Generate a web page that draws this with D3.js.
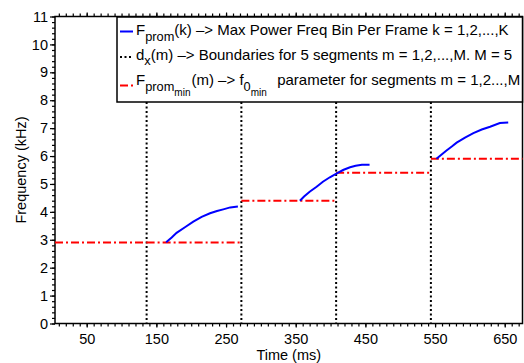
<!DOCTYPE html>
<html>
<head>
<meta charset="utf-8">
<script src="https://cdn.jsdelivr.net/npm/d3@7"></script>
<style>
  html, body { margin: 0; padding: 0; background: #fff; }
  svg { display: block; font-family: "Liberation Sans", Arial, Helvetica, sans-serif; }
</style>
</head>
<body>
<svg id="chart" width="524" height="363"></svg>
<script>
// ---- data ----
const xDomain = [4.5, 675.5];
const yDomain = [0, 11];
const xTickLabels = [50, 150, 250, 350, 450, 550, 650];
const yTickLabels = [0, 1, 2, 3, 4, 5, 6, 7, 8, 9, 10, 11];

// blue: max power freq bin per frame (three visible voiced pieces)
const blue1Time = [164, 172, 179, 191, 203, 215, 227, 237, 246, 256, 267];
const blue1Freq = [2.91, 3.08, 3.25, 3.45, 3.65, 3.82, 3.95, 4.03, 4.09, 4.16, 4.19];
const blue2Time = [356, 362, 370, 380, 389, 399, 409, 418, 428, 436, 445, 456];
const blue2Freq = [4.40, 4.55, 4.72, 4.90, 5.08, 5.24, 5.38, 5.50, 5.60, 5.65, 5.69, 5.69];
const blue3Time = [552, 559, 566, 574, 581, 593, 605, 617, 629, 643, 655];
const blue3Freq = [5.90, 6.05, 6.19, 6.34, 6.48, 6.66, 6.82, 6.95, 7.05, 7.18, 7.20];

// segment boundaries (dotted) and f0_min per segment (red)
const boundaries = [136, 272, 408, 544];
const segStart = [4.5, 136, 272, 408, 544];
const segEnd   = [136, 272, 408, 544, 675.5];
const segFmin  = [2.9, 2.9, 4.4, 5.4, 5.9];

// ---- layout ----
const L = 55, R = 522.5, T = 16.5, B = 323.5;
const svg = d3.select("#chart");
const x = d3.scaleLinear().domain(xDomain).range([L, R]);
const y = d3.scaleLinear().domain(yDomain).range([B, T]);

const minorX = d3.range(10, 680, 10);
const minorY = d3.range(0, 11.001, 0.2);

// minor ticks
const gx = svg.append("g").attr("transform", `translate(0,${B})`);
gx.call(d3.axisBottom(x).tickValues(minorX).tickSize(3).tickFormat(""));
const gxMaj = svg.append("g").attr("transform", `translate(0,${B})`);
gxMaj.call(d3.axisBottom(x).tickValues(xTickLabels).tickSize(4).tickPadding(6).tickFormat(d3.format("d")));
const gt = svg.append("g").attr("transform", `translate(0,${T})`);
gt.call(d3.axisTop(x).tickValues(minorX).tickSize(3).tickFormat(""));
const gtMaj = svg.append("g").attr("transform", `translate(0,${T})`);
gtMaj.call(d3.axisTop(x).tickValues(xTickLabels).tickSize(4).tickFormat(""));

const gy = svg.append("g").attr("transform", `translate(${L},0)`);
gy.call(d3.axisLeft(y).tickValues(minorY).tickSize(3).tickFormat(""));
const gyMaj = svg.append("g").attr("transform", `translate(${L},0)`);
gyMaj.call(d3.axisLeft(y).tickValues(yTickLabels).tickSize(5).tickPadding(2).tickFormat(d3.format("d")));

svg.selectAll(".domain").remove();
svg.selectAll(".tick line").attr("stroke", "#000").attr("stroke-width", 1.2);
svg.selectAll(".tick text").attr("fill", "#000").style("font-size", "14.5px")
   .style("font-family", "'Liberation Sans', Arial, sans-serif");

// frame
svg.append("rect").attr("x", L).attr("y", T).attr("width", R - L).attr("height", B - T)
  .attr("fill", "none").attr("stroke", "#000").attr("stroke-width", 1.5);

// dotted boundaries
svg.append("g").selectAll("line").data(boundaries).join("line")
  .attr("x1", d => x(d)).attr("x2", d => x(d))
  .attr("y1", T).attr("y2", B)
  .attr("stroke", "#000").attr("stroke-width", 2).attr("stroke-dasharray", "2,2.5");

// red f0_min segments
const segs = segStart.map((s, i) => ({ s, e: segEnd[i], f: segFmin[i] }));
svg.append("g").selectAll("line").data(segs).join("line")
  .attr("x1", d => x(d.s)).attr("x2", d => x(d.e))
  .attr("y1", d => y(d.f)).attr("y2", d => y(d.f))
  .attr("stroke", "#ff0000").attr("stroke-width", 2).attr("stroke-dasharray", "8,3,2,3");

// blue curves
const line = d3.line().x(d => x(d[0])).y(d => y(d[1]));
[[blue1Time, blue1Freq], [blue2Time, blue2Freq], [blue3Time, blue3Freq]].forEach(([t, f]) => {
  svg.append("path").datum(t.map((v, i) => [v, f[i]]))
    .attr("d", line).attr("fill", "none").attr("stroke", "#0000ff").attr("stroke-width", 2);
});

// axis labels
svg.append("text").attr("x", (L + R) / 2).attr("y", 359.5).attr("text-anchor", "middle")
  .style("font-size", "14.5px").text("Time (ms)");
svg.append("text").attr("transform", `translate(26,${(T + B) / 2}) rotate(-90)`)
  .attr("text-anchor", "middle").style("font-size", "14.5px").text("Frequency (kHz)");

// legend
const lg = svg.append("g");
lg.append("rect").attr("x", 117).attr("y", 17).attr("width", R - 117).attr("height", 85)
  .attr("fill", "#fff").attr("stroke", "#000").attr("stroke-width", 1.5);
lg.append("line").attr("x1", 120).attr("x2", 133).attr("y1", 31.5).attr("y2", 31.5)
  .attr("stroke", "#0000ff").attr("stroke-width", 2);
lg.append("line").attr("x1", 120).attr("x2", 133).attr("y1", 57).attr("y2", 57)
  .attr("stroke", "#000").attr("stroke-width", 2).attr("stroke-dasharray", "2,2.5");
lg.append("line").attr("x1", 120).attr("x2", 133).attr("y1", 85.5).attr("y2", 85.5)
  .attr("stroke", "#ff0000").attr("stroke-width", 2).attr("stroke-dasharray", "8,3,2,3");

const fs = 15, sub = 12.8, sub2 = 10;
function addText(yb, parts) {
  const t = lg.append("text").attr("x", 136).attr("y", yb).style("font-size", fs + "px");
  parts.forEach(p => {
    const ts = t.append("tspan").text(p.t).style("font-size", (p.s || fs) + "px");
    if (p.dy) ts.attr("dy", p.dy);
    if (p.dx) ts.attr("dx", p.dx);
  });
  return t;
}
addText(35, [
  { t: "F" }, { t: "prom", s: sub, dy: 5.5 }, { t: "(k) \u2013> Max Power Freq Bin Per Frame k = 1,2,...,K", dy: -5.5 }
]);
addText(59.5, [
  { t: "d" }, { t: "x", s: sub, dy: 5.5 }, { t: "(m) \u2013> Boundaries for 5 segments m = 1,2,...,M. M = 5", dy: -5.5 }
]);
addText(85, [
  { t: "F" }, { t: "prom", s: sub, dy: 5.5 }, { t: "min", s: sub2, dy: 5 },
  { t: "(m) \u2013> f", dy: -10.5, dx: 1 }, { t: "0", s: sub, dy: 5.5 }, { t: "min", s: sub2, dy: 5 },
  { t: "  parameter for segments m = 1,2...,M", dy: -10.5, dx: 2 }
]).style("white-space", "pre");
</script>
</body>
</html>
